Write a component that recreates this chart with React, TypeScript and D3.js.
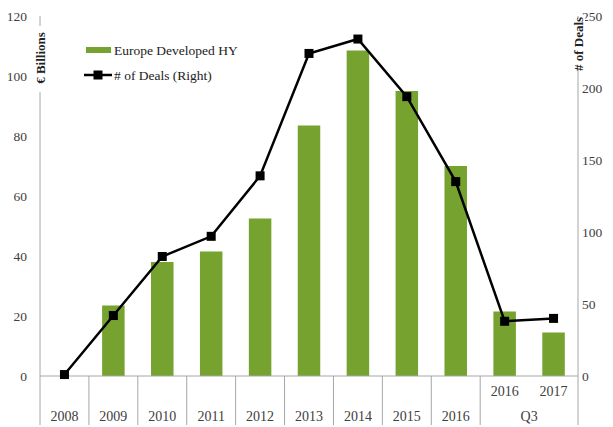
import * as d3 from 'd3'
import { useEffect, useRef } from 'react'

const categories = ['2008', '2009', '2010', '2011', '2012', '2013', '2014', '2015', '2016', 'Q3 2016', 'Q3 2017']
const yearLabels = ['2008', '2009', '2010', '2011', '2012', '2013', '2014', '2015', '2016', '2016', '2017']
const volumes = [0, 23.5, 38, 41.5, 52.5, 83.5, 108.5, 95, 70, 21.5, 14.5]
const deals = [1, 42, 83, 97, 139, 224, 234, 194, 135, 38, 40]
const leftTicks = [0, 20, 40, 60, 80, 100, 120]
const rightTicks = [0, 50, 100, 150, 200, 250]

const App = () => {
  const svgRef = useRef<SVGSVGElement>(null)

  useEffect(() => {
    const svg = d3.select(svgRef.current)
    svg.selectAll('*').remove()

    const margin = { top: 16, left: 40, right: 35 }
    const width = 613 - margin.left - margin.right
    const plotBottom = 376
    const font = 'Liberation Serif, DejaVu Serif, serif'
    const grey = '#404040'
    const axisGrey = '#a6a6a6'

    const x = d3.scaleBand().domain(categories).range([margin.left, margin.left + width]).paddingInner(0).paddingOuter(0)
    const yL = d3.scaleLinear().domain([0, 120]).range([plotBottom, margin.top])
    const yR = d3.scaleLinear().domain([0, 250]).range([plotBottom, margin.top])
    const bw = x.bandwidth() * 0.46

    // bars
    svg
      .selectAll('.bar')
      .data(categories)
      .enter()
      .append('rect')
      .attr('x', (d) => x(d)! + (x.bandwidth() - bw) / 2)
      .attr('y', (_, i) => yL(volumes[i]))
      .attr('width', bw)
      .attr('height', (_, i) => plotBottom - yL(volumes[i]))
      .attr('fill', '#76a22f')

    // axes lines
    const left = margin.left
    const right = margin.left + width
    svg.append('line').attr('x1', left).attr('x2', left).attr('y1', margin.top).attr('y2', 425).attr('stroke', axisGrey)
    svg.append('line').attr('x1', right).attr('x2', right).attr('y1', margin.top).attr('y2', 425).attr('stroke', axisGrey)
    svg.append('line').attr('x1', left).attr('x2', right).attr('y1', plotBottom).attr('y2', plotBottom).attr('stroke', axisGrey)

    // category separators (no line between the two Q3 bars)
    categories.forEach((c, i) => {
      if (i === 0 || i === 10) return
      svg
        .append('line')
        .attr('x1', x(c)!)
        .attr('x2', x(c)!)
        .attr('y1', plotBottom)
        .attr('y2', 425)
        .attr('stroke', axisGrey)
    })

    // category labels
    categories.forEach((c, i) => {
      const cx = x(c)! + x.bandwidth() / 2
      svg
        .append('text')
        .attr('x', cx)
        .attr('y', i >= 9 ? 396 : 421)
        .attr('text-anchor', 'middle')
        .attr('font-family', font)
        .attr('font-size', 14)
        .attr('fill', grey)
        .text(yearLabels[i])
    })
    svg
      .append('text')
      .attr('x', (x('Q3 2016')! + x('Q3 2017')! + x.bandwidth()) / 2)
      .attr('y', 421)
      .attr('text-anchor', 'middle')
      .attr('font-family', font)
      .attr('font-size', 14)
      .attr('fill', grey)
      .text('Q3')

    // tick labels
    svg
      .selectAll('.lt')
      .data(leftTicks)
      .enter()
      .append('text')
      .attr('x', 27)
      .attr('y', (d) => yL(d) + 5)
      .attr('text-anchor', 'end')
      .attr('font-family', font)
      .attr('font-size', 13.5)
      .attr('fill', grey)
      .text((d) => d)
    svg
      .selectAll('.rt')
      .data(rightTicks)
      .enter()
      .append('text')
      .attr('x', 582)
      .attr('y', (d) => yR(d) + 5)
      .attr('text-anchor', 'start')
      .attr('font-family', font)
      .attr('font-size', 13.5)
      .attr('fill', grey)
      .text((d) => d)

    // axis titles over the axis lines
    svg.append('rect').attr('x', left - 7).attr('y', 26).attr('width', 14).attr('height', 66).attr('fill', '#fff')
    svg
      .append('text')
      .attr('transform', `translate(${left + 5},58) rotate(-90)`)
      .attr('text-anchor', 'middle')
      .attr('font-family', font)
      .attr('font-size', 13)
      .attr('font-weight', 'bold')
      .attr('fill', '#222')
      .text('€ Billions')
    svg.append('rect').attr('x', right - 7).attr('y', 18).attr('width', 14).attr('height', 52).attr('fill', '#fff')
    svg
      .append('text')
      .attr('transform', `translate(${right + 5},44) rotate(-90)`)
      .attr('text-anchor', 'middle')
      .attr('font-family', font)
      .attr('font-size', 13)
      .attr('font-weight', 'bold')
      .attr('fill', '#222')
      .text('# of Deals')

    // deals line
    const line = d3
      .line<number>()
      .x((_, i) => x(categories[i])! + x.bandwidth() / 2)
      .y((d) => yR(d))
    svg.append('path').datum(deals).attr('d', line).attr('fill', 'none').attr('stroke', '#000').attr('stroke-width', 2.5)
    svg
      .selectAll('.mk')
      .data(deals)
      .enter()
      .append('rect')
      .attr('x', (_, i) => x(categories[i])! + x.bandwidth() / 2 - 4.5)
      .attr('y', (d) => yR(d) - 4.5)
      .attr('width', 9)
      .attr('height', 9)
      .attr('fill', '#000')

    // legend
    svg.append('rect').attr('x', 86).attr('y', 47).attr('width', 25).attr('height', 6).attr('fill', '#76a22f')
    svg
      .append('text')
      .attr('x', 114)
      .attr('y', 55)
      .attr('font-family', font)
      .attr('font-size', 13.5)
      .attr('fill', '#222')
      .text('Europe Developed HY')
    svg.append('line').attr('x1', 84).attr('x2', 112).attr('y1', 75).attr('y2', 75).attr('stroke', '#000').attr('stroke-width', 2.5)
    svg.append('rect').attr('x', 93.5).attr('y', 70.5).attr('width', 9).attr('height', 9).attr('fill', '#000')
    svg
      .append('text')
      .attr('x', 114)
      .attr('y', 80)
      .attr('font-family', font)
      .attr('font-size', 13.5)
      .attr('fill', '#222')
      .text('# of Deals (Right)')
  }, [])

  return <svg ref={svgRef} width={613} height={427} style={{ position: 'absolute', left: 0, top: 0 }} />
}

export default App
